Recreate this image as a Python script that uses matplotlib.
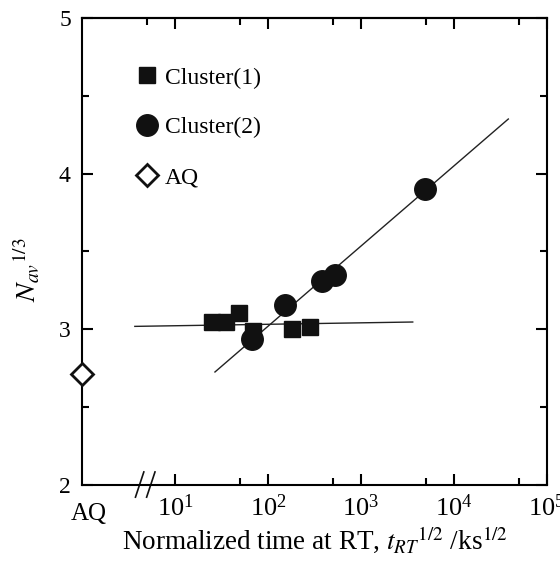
import matplotlib
matplotlib.use("Agg")
import matplotlib.pyplot as plt
from matplotlib.ticker import FixedLocator, NullFormatter, LogFormatterSciNotation

plt.rcParams['font.family'] = ['Liberation Serif', 'DejaVu Serif']
plt.rcParams['mathtext.fontset'] = 'stix'

# data
c1_t = [24.8, 35.3, 49.1, 69.5, 180, 283]
c1_n = [3.047, 3.05, 3.107, 2.989, 3.004, 3.015]
c2_t = [67.8, 152, 378, 525, 4875]
c2_n = [2.936, 3.158, 3.308, 3.346, 3.902]
aq_t = [1.0]
aq_n = [2.71]

fit1_t = [3.7, 3600]
fit1_n = [3.019, 3.047]
fit2_t = [26.9, 38370]
fit2_n = [2.726, 4.351]

major_x = [1e1, 1e2, 1e3, 1e4, 1e5]
minor_x_bottom = [50, 500, 5000, 50000]
minor_x_top = [5, 50, 500, 5000, 50000]

fig = plt.figure(figsize=(5.6, 5.67), dpi=100)
ax = fig.add_axes([0.1464, 0.1446, 0.8304, 0.8237])

ax.plot(fit1_t, fit1_n, color='#222222', lw=1.0)
ax.plot(fit2_t, fit2_n, color='#222222', lw=1.0)
ax.plot(c1_t, c1_n, 's', color='#111111', ms=11.5, label='Cluster(1)')
ax.plot(c2_t, c2_n, 'o', color='#111111', ms=15.5, label='Cluster(2)')
ax.plot(aq_t, aq_n, 'D', mfc='white', mec='#111111', mew=2, ms=11,
        label='AQ', clip_on=False, zorder=5)

ax.set_xscale('log')
ax.set_xlim(1, 1e5)
ax.set_ylim(2, 5)

ax.xaxis.set_major_locator(FixedLocator(major_x))
ax.xaxis.set_major_formatter(LogFormatterSciNotation())
ax.xaxis.set_minor_locator(FixedLocator(minor_x_bottom))
ax.xaxis.set_minor_formatter(NullFormatter())
ax.set_yticks([2, 3, 4, 5])
ax.set_yticks([2.5, 3.5, 4.5], minor=True)

ax.tick_params(which='both', direction='in', top=False, right=True, width=1.5)
ax.tick_params(which='major', length=8)
ax.tick_params(which='minor', length=5)
ax.tick_params(axis='x', labelsize=19, pad=7)
ax.tick_params(axis='y', labelsize=17, pad=8)

top = ax.secondary_xaxis('top')
top.xaxis.set_major_locator(FixedLocator(major_x))
top.xaxis.set_minor_locator(FixedLocator(minor_x_top))
top.xaxis.set_major_formatter(NullFormatter())
top.xaxis.set_minor_formatter(NullFormatter())
top.tick_params(which='both', direction='in', width=1.5)
top.tick_params(which='major', length=8)
top.tick_params(which='minor', length=5)
top.spines['top'].set_linewidth(1.5)

for s in ax.spines.values():
    s.set_linewidth(1.5)

# axis break marks
for x0 in (0.115, 0.139):
    ax.plot([x0, x0 + 0.018], [-0.026, 0.028], color='#111111', lw=1.2,
            transform=ax.transAxes, clip_on=False)

ax.text(0.014, -0.038, 'AQ', transform=ax.transAxes, ha='center', va='top',
        fontsize=18)

ax.set_xlabel(r'Normalized time at RT, $t_{RT}{}^{1/2}$ /ks$^{1/2}$',
              fontsize=19.5, labelpad=2)
ax.set_ylabel(r'$N_{av}{}^{1/3}$', fontsize=20)
ax.yaxis.set_label_coords(-0.085, 0.46)

ax.legend(loc='upper left', bbox_to_anchor=(0.094, 0.915), frameon=False,
          fontsize=17, handlelength=1.0, handletextpad=0.27, labelspacing=1.2,
          borderaxespad=0)

fig.savefig('out.png', dpi=100)
